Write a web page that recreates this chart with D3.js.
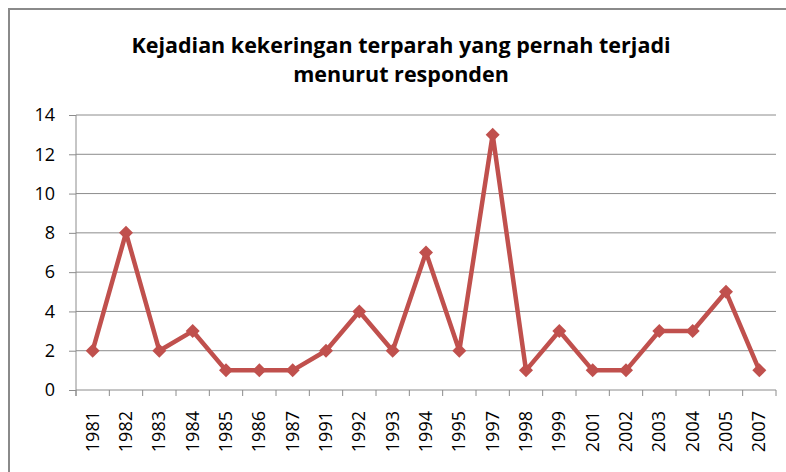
<!DOCTYPE html>
<html>
<head>
<meta charset="utf-8">
<script src="https://cdn.jsdelivr.net/npm/d3@7"></script>
<style>
  html, body { margin: 0; padding: 0; background: #fff; }
  svg { display: block; }
</style>
</head>
<body>
<div id="chart"></div>
<script>
const years = ["1981","1982","1983","1984","1985","1986","1987","1991","1992","1993","1994","1995","1997","1998","1999","2001","2002","2003","2004","2005","2007"];
const counts = [2, 8, 2, 3, 1, 1, 1, 2, 4, 2, 7, 2, 13, 1, 3, 1, 1, 3, 3, 5, 1];
const yTicks = [0, 2, 4, 6, 8, 10, 12, 14];
const titleLines = ["Kejadian kekeringan terparah yang pernah terjadi", "menurut responden"];

const w = 786, h = 472;
const plot = { left: 76, right: 776, top: 115, bottom: 390 };
const red = "#c0504d";
const font = "'Open Sans', 'Liberation Sans', sans-serif";

const svg = d3.select("#chart")
  .append("svg")
  .attr("width", w)
  .attr("height", h);

// chart frame (cut off at right and bottom, like the picture)
svg.append("rect")
  .attr("x", 9).attr("y", 9)
  .attr("width", w + 20).attr("height", h + 20)
  .attr("fill", "none")
  .attr("stroke", "#8a8a8a")
  .attr("stroke-width", 2);

svg.append("g")
  .selectAll("text")
  .data(titleLines)
  .enter()
  .append("text")
  .attr("x", 401)
  .attr("y", (d, i) => 53 + i * 29)
  .attr("text-anchor", "middle")
  .attr("font-family", font)
  .attr("font-weight", "bold")
  .attr("font-size", 21.5)
  .attr("fill", "#000")
  .text(d => d);

const xScale = d3.scaleBand()
  .domain(years)
  .range([plot.left, plot.right]);

const yScale = d3.scaleLinear()
  .domain([0, 14])
  .range([plot.bottom, plot.top]);

// gridlines
svg.append("g")
  .selectAll("line")
  .data(yTicks.filter(t => t > 0))
  .enter()
  .append("line")
  .attr("x1", plot.left).attr("x2", plot.right)
  .attr("y1", d => yScale(d)).attr("y2", d => yScale(d))
  .attr("stroke", "#8c8c8c")
  .attr("stroke-width", 1);

const yAxis = d3.axisLeft(yScale)
  .tickValues(yTicks)
  .tickSize(7)
  .tickPadding(14)
  .tickFormat(d3.format("d"));

const gy = svg.append("g")
  .attr("transform", "translate(" + plot.left + ",0)")
  .call(yAxis);
gy.select(".domain").attr("stroke", "#8c8c8c").attr("d", "M0," + plot.top + "V" + (plot.bottom + 6));
gy.selectAll(".tick line").attr("stroke", "#8c8c8c");
gy.selectAll("text")
  .attr("font-family", font)
  .attr("font-size", 18)
  .attr("fill", "#000");

// x axis: ticks at category boundaries
const gx = svg.append("g");
gx.append("line")
  .attr("x1", plot.left).attr("x2", plot.right)
  .attr("y1", plot.bottom).attr("y2", plot.bottom)
  .attr("stroke", "#8c8c8c");
gx.selectAll(".xt")
  .data(years.concat(["end"]))
  .enter()
  .append("line")
  .attr("class", "xt")
  .attr("x1", (d, i) => i < years.length ? xScale(d) : plot.right)
  .attr("x2", (d, i) => i < years.length ? xScale(d) : plot.right)
  .attr("y1", plot.bottom).attr("y2", plot.bottom + 6)
  .attr("stroke", "#8c8c8c");
gx.selectAll(".xl")
  .data(years)
  .enter()
  .append("text")
  .attr("class", "xl")
  .attr("transform", d => "translate(" + (xScale(d) + xScale.bandwidth() / 2 + 6) + "," + (plot.bottom + 21) + ") rotate(-90)")
  .attr("text-anchor", "end")
  .attr("font-family", font)
  .attr("font-size", 18)
  .attr("fill", "#000")
  .text(d => d);

// series line
const line = d3.line()
  .x((d, i) => xScale(years[i]) + xScale.bandwidth() / 2)
  .y(d => yScale(d));

svg.append("path")
  .datum(counts)
  .attr("d", line)
  .attr("fill", "none")
  .attr("stroke", red)
  .attr("stroke-width", 4.5)
  .attr("stroke-linejoin", "round");

svg.selectAll(".marker")
  .data(counts)
  .enter()
  .append("path")
  .attr("class", "marker")
  .attr("d", d3.symbol().type(d3.symbolDiamond2).size(125))
  .attr("transform", (d, i) => "translate(" + (xScale(years[i]) + xScale.bandwidth() / 2) + "," + yScale(d) + ")")
  .attr("fill", red);
</script>
</body>
</html>
